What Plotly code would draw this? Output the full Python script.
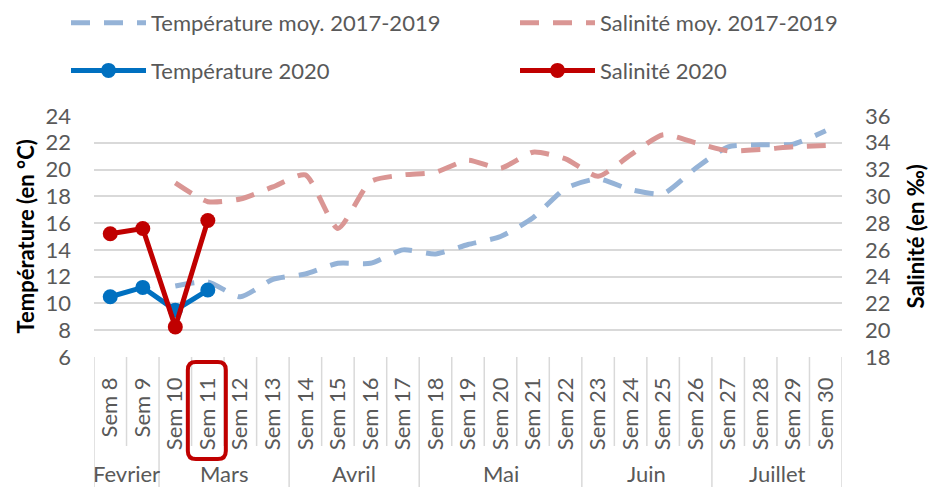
import plotly.graph_objects as go

weeks = ["Sem %d" % i for i in range(8, 31)]
months = ["Fevrier", "Mars", "Avril", "Mai", "Juin", "Juillet"]
month_sizes = [2, 4, 4, 5, 4, 4]

temp_moy = [None, None, 11.3, 11.6, 10.5, 11.8, 12.2, 13.0, 13.0, 14.0, 13.7, 14.4,
            15.0, 16.4, 18.6, 19.3, 18.5, 18.2, 20.1, 21.7, 21.85, 21.9, 22.9]
sal_moy = [None, None, 31.0, 29.6, 29.8, 30.7, 31.6, 27.6, 31.1, 31.6, 31.8, 32.7,
           32.1, 33.3, 32.8, 31.5, 33.1, 34.6, 34.0, 33.4, 33.5, 33.7, 33.8]
temp_2020 = [10.5, 11.2, 9.5, 11.0] + [None] * 19
sal_2020 = [27.2, 27.6, 20.25, 28.2] + [None] * 19

temp_ticks = list(range(6, 25, 2))
sal_ticks = list(range(18, 37, 2))
highlight_week = "Sem 11"

# page body has an 8px margin: size the figure so it fits the window
OFF = 8
W, H = 939 - OFF, 487 - OFF
L, T = 94 - OFF, 116 - OFF
R, B = 97, 130
PW, PH = W - L - R, H - T - B
FONT = "Lato"
FS = 22
GREY = "#595959"
GRID = "#D9D9D9"

fig = go.Figure()
fig.add_trace(go.Scatter(x=weeks, y=temp_moy, name="Température moy. 2017-2019", mode="lines",
                         line=dict(color="#95B3D7", width=5, dash="19px,14px", shape="spline", smoothing=0.6),
                         legend="legend", legendgroup="a"))
fig.add_trace(go.Scatter(x=weeks, y=sal_moy, name="Salinité moy. 2017-2019", mode="lines", yaxis="y2",
                         line=dict(color="#DA9694", width=5, dash="19px,14px", shape="spline", smoothing=0.6),
                         legend="legend2", legendgroup="c"))
fig.add_trace(go.Scatter(x=weeks, y=temp_2020, name="Température 2020", mode="lines+markers",
                         line=dict(color="#0070C0", width=5), marker=dict(size=15, color="#0070C0"),
                         legend="legend", legendgroup="b"))
fig.add_trace(go.Scatter(x=weeks, y=sal_2020, name="Salinité 2020", mode="lines+markers", yaxis="y2",
                         line=dict(color="#C00000", width=5), marker=dict(size=15, color="#C00000"),
                         legend="legend2", legendgroup="d"))

n = len(weeks)
shapes = []
bounds = [0]
for s in month_sizes:
    bounds.append(bounds[-1] + s)
for i in range(n + 1):
    long = i in bounds
    shapes.append(dict(type="line", xref="x", yref="paper", x0=i - 0.5, x1=i - 0.5,
                       y0=0, y1=(-(B + 2) / PH if long else -89 / PH),
                       line=dict(color=GRID, width=1.5)))

# highlight box around Sem 11 label
idx = weeks.index(highlight_week)
cx = L + (idx + 0.5) * PW / n
x0p, x1p, y0p, y1p, r = cx - 20, cx + 18, 362 - OFF, 459 - OFF, 8


def P(px, py):
    return "%.5f,%.5f" % ((px - L) / PW, (H - B - py) / PH)


path = ("M" + P(x0p + r, y0p) + " L" + P(x1p - r, y0p) + " Q" + P(x1p, y0p) + " " + P(x1p, y0p + r) +
        " L" + P(x1p, y1p - r) + " Q" + P(x1p, y1p) + " " + P(x1p - r, y1p) +
        " L" + P(x0p + r, y1p) + " Q" + P(x0p, y1p) + " " + P(x0p, y1p - r) +
        " L" + P(x0p, y0p + r) + " Q" + P(x0p, y0p) + " " + P(x0p + r, y0p) + " Z")
shapes.append(dict(type="path", xref="paper", yref="paper", path=path, line=dict(color="#C00000", width=4)))

annotations = []
start = 0
for m, s in zip(months, month_sizes):
    annotations.append(dict(text=m, x=start + (s - 1) / 2, xref="x", y=-(473 - OFF - (H - B)) / PH, yref="paper",
                            showarrow=False, font=dict(family=FONT, size=FS, color=GREY), yanchor="middle"))
    start += s
annotations.append(dict(text="<b>Température (en °C)</b>", textangle=-90, x=(25 - OFF - L) / PW, xref="paper",
                        y=0.5, yref="paper", showarrow=False, xanchor="center", yanchor="middle",
                        font=dict(family=FONT, size=FS, color="black")))
annotations.append(dict(text="<b>Salinité (en ‰)</b>", textangle=-90, x=(915 - OFF - L) / PW, xref="paper",
                        y=0.5, yref="paper", showarrow=False, xanchor="center", yanchor="middle",
                        font=dict(family=FONT, size=FS, color="black")))

leg_top = 1 + (T + 6) / PH
leg = dict(yref="paper", xref="container", yanchor="top", xanchor="left", y=leg_top,
           itemwidth=75, tracegroupgap=16, font=dict(family=FONT, size=FS, color=GREY),
           bgcolor="rgba(0,0,0,0)")
fig.update_layout(
    width=W, height=H, margin=dict(l=L, r=R, t=T, b=B, autoexpand=False),
    plot_bgcolor="white", paper_bgcolor="white",
    font=dict(family=FONT, size=FS, color=GREY),
    xaxis=dict(type="category", range=[-0.5, n - 0.5], tickangle=-90, showgrid=False, showline=False,
               ticks="", tickfont=dict(family=FONT, size=FS, color=GREY), ticklabelstandoff=15),
    yaxis=dict(range=[6, 24], tickvals=temp_ticks, showgrid=True, gridcolor=GRID, gridwidth=1.5,
               zeroline=False, showline=False, ticks="", ticklabelstandoff=22,
               tickfont=dict(family=FONT, size=FS, color=GREY)),
    yaxis2=dict(range=[18, 36], tickvals=sal_ticks, overlaying="y", side="right", showgrid=False,
                zeroline=False, showline=False, ticks="", ticklabelstandoff=22,
                tickfont=dict(family=FONT, size=FS, color=GREY)),
    legend=dict(leg, x=(66 - OFF) / W),
    legend2=dict(leg, x=(515 - OFF) / W),
    shapes=shapes, annotations=annotations, showlegend=True,
)
fig.write_html("out.html")
